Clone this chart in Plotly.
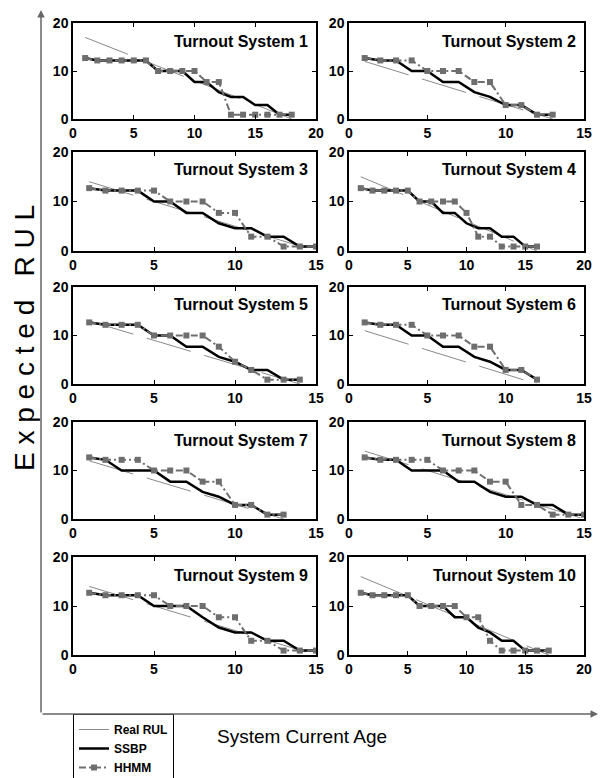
import plotly.graph_objects as go

# ---------------- data ----------------
titles = ["Turnout System %d" % i for i in range(1, 11)]
fail_age = [18, 13, 15, 16, 14, 12, 13, 15, 15, 17]          # system failure age (x where real RUL = 0)
x_max = [20, 15, 15, 20, 15, 15, 15, 15, 15, 20]              # x-axis upper limit per panel

# Real RUL: straight line from first age to failure age
real_x = [[1, 18], [1, 13], [1, 15], [1, 16], [1, 14], [1, 12], [1, 13], [1, 15], [1, 15], [1, 17]]
real_y = [[17, 0], [12, 0], [14, 0], [15, 0], [13, 0], [11, 0], [12, 0], [14, 0], [14, 0], [16, 0]]

ssbp = [
    [12.7, 12.2, 12.2, 12.2, 12.2, 12.2, 10, 10, 10, 7.7, 7.7, 5.6, 4.6, 4.6, 2.9, 2.9, 0.9, 0.9],
    [12.7, 12.2, 12.2, 10, 10, 7.7, 7.7, 5.6, 4.6, 2.9, 2.9, 0.9, 0.9],
    [12.7, 12.2, 12.2, 12.2, 10, 10, 7.7, 7.7, 5.6, 4.6, 4.6, 2.9, 2.9, 0.9, 0.9],
    [12.7, 12.2, 12.2, 12.2, 12.2, 10, 10, 7.7, 7.7, 5.6, 4.6, 4.6, 2.9, 2.9, 0.9, 0.9],
    [12.7, 12.2, 12.2, 12.2, 10, 10, 7.7, 7.7, 5.6, 4.6, 2.9, 2.9, 0.9, 0.9],
    [12.7, 12.2, 12.2, 10, 10, 7.7, 7.7, 5.6, 4.6, 2.9, 2.9, 0.9],
    [12.7, 12.2, 10, 10, 10, 7.7, 7.7, 5.6, 4.6, 2.9, 2.9, 0.9, 0.9],
    [12.7, 12.2, 12.2, 10, 10, 10, 7.7, 7.7, 5.6, 4.6, 4.6, 2.9, 2.9, 0.9, 0.9],
    [12.7, 12.2, 12.2, 12.2, 10, 10, 10, 7.7, 5.6, 4.6, 4.6, 2.9, 2.9, 0.9, 0.9],
    [12.7, 12.2, 12.2, 12.2, 12.2, 10, 10, 10, 7.7, 7.7, 5.6, 4.6, 2.9, 2.9, 0.9, 0.9, 0.9],
]
hhmm = [
    [12.7, 12.2, 12.2, 12.2, 12.2, 12.2, 10, 10, 10, 10, 7.7, 7.7, 0.9, 0.9, 0.9, 0.9, 0.9, 0.9],
    [12.7, 12.2, 12.2, 12.2, 10, 10, 10, 7.7, 7.7, 2.9, 2.9, 0.9, 0.9],
    [12.7, 12.2, 12.2, 12.2, 12.2, 10, 10, 10, 7.7, 7.7, 2.9, 2.9, 0.9, 0.9, 0.9],
    [12.7, 12.2, 12.2, 12.2, 12.2, 10, 10, 10, 10, 7.7, 2.9, 2.9, 0.9, 0.9, 0.9, 0.9],
    [12.7, 12.2, 12.2, 12.2, 10, 10, 10, 10, 7.7, 4.6, 2.9, 0.9, 0.9, 0.9],
    [12.7, 12.2, 12.2, 12.2, 10, 10, 10, 7.7, 7.7, 2.9, 2.9, 0.9],
    [12.7, 12.2, 12.2, 12.2, 10, 10, 10, 7.7, 7.7, 2.9, 2.9, 0.9, 0.9],
    [12.7, 12.2, 12.2, 12.2, 12.2, 10, 10, 10, 7.7, 7.7, 2.9, 2.9, 0.9, 0.9, 0.9],
    [12.7, 12.2, 12.2, 12.2, 12.2, 10, 10, 10, 7.7, 7.7, 2.9, 2.9, 0.9, 0.9, 0.9],
    [12.7, 12.2, 12.2, 12.2, 12.2, 10, 10, 10, 10, 7.7, 7.7, 2.9, 0.9, 0.9, 0.9, 0.9, 0.9],
]
y_ticks = [0, 10, 20]

# ---------------- layout geometry (pixels) ----------------
W, H = 600, 778
col_px = [(73, 316), (349, 584)]
row_px = [(23, 119), (152, 251), (287, 384), (422, 519), (557, 655)]

FONT = "Liberation Sans, Arial, Helvetica, sans-serif"

fig = go.Figure()
layout = dict(
    width=W, height=H, margin=dict(l=0, r=0, t=0, b=0, autoexpand=False),
    paper_bgcolor="white", plot_bgcolor="white",
    font=dict(family=FONT, color="black"),
    showlegend=True,
    legend=dict(x=73 / W, y=1 - 714 / H, xanchor="left", yanchor="top",
                bordercolor="black", borderwidth=1, bgcolor="white",
                font=dict(family=FONT, size=12, weight="bold", color="black"),
                tracegroupgap=0, itemwidth=30),
)
annotations = []

for i in range(10):
    r, c = divmod(i, 2)
    n = i + 1
    sfx = "" if n == 1 else str(n)
    xa, ya = "x" + sfx, "y" + sfx
    x0, x1 = col_px[c]
    yt, yb = row_px[r]
    ages = list(range(1, fail_age[i] + 1))
    first = (i == 0)

    fig.add_trace(go.Scatter(
        x=real_x[i], y=real_y[i], mode="lines", name="Real RUL",
        line=dict(color="#8a8a8a", width=1, dash="46px,14px"),
        xaxis=xa, yaxis=ya, showlegend=first, legendgroup="real"))
    fig.add_trace(go.Scatter(
        x=ages, y=ssbp[i], mode="lines", name="SSBP",
        line=dict(color="black", width=2.5),
        xaxis=xa, yaxis=ya, showlegend=first, legendgroup="ssbp"))
    fig.add_trace(go.Scatter(
        x=ages, y=hhmm[i], mode="lines+markers", name="HHMM",
        line=dict(color="#6e6e6e", width=2, dash="7px,3px,2px,3px"),
        marker=dict(symbol="square", size=6, color="#6e6e6e"),
        xaxis=xa, yaxis=ya, showlegend=first, legendgroup="hhmm"))

    axis_common = dict(showline=True, linecolor="black", linewidth=1.5, mirror="ticks",
                       ticks="inside", ticklen=4, tickcolor="black", tickwidth=1,
                       showgrid=False, zeroline=False,
                       tickfont=dict(family=FONT, size=14, weight="bold", color="black"))
    layout["xaxis" + sfx] = dict(axis_common, domain=[x0 / W, x1 / W], range=[0, x_max[i]],
                                 tickvals=list(range(0, x_max[i] + 1, 5)), anchor=ya)
    layout["yaxis" + sfx] = dict(axis_common, domain=[1 - yb / H, 1 - yt / H], range=[0, 20],
                                 tickvals=y_ticks, anchor=xa)
    annotations.append(dict(
        text=titles[i], xref=xa + " domain", yref=ya + " domain", x=1, y=1,
        xanchor="right", yanchor="middle", xshift=-6, yshift=-18, showarrow=False,
        font=dict(family=FONT, size=16, weight="bold", color="black")))

# big axis labels
annotations.append(dict(text="E x p e c t e d   R U L", xref="paper", yref="paper",
                        x=25 / W, y=1 - 338 / H, textangle=-90, showarrow=False,
                        xanchor="center", yanchor="middle",
                        font=dict(family=FONT, size=28, color="black")))
annotations.append(dict(text="System Current Age", xref="paper", yref="paper",
                        x=302 / W, y=1 - 736 / H, showarrow=False,
                        xanchor="center", yanchor="middle",
                        font=dict(family=FONT, size=19, color="black")))
# arrows of the outer axes
annotations.append(dict(text="", xref="paper", yref="paper", x=41 / W, y=1 - 10 / H,
                        ax=0, ay=704, showarrow=True, arrowhead=2, arrowsize=1,
                        arrowwidth=1.5, arrowcolor="#666666", standoff=0))
annotations.append(dict(text="", xref="paper", yref="paper", x=598 / W, y=1 - 714 / H,
                        ax=-557, ay=0, showarrow=True, arrowhead=2, arrowsize=1,
                        arrowwidth=1.5, arrowcolor="#666666", standoff=0))

layout["annotations"] = annotations
fig.update_layout(**layout)
fig.write_html("out.html", config={"displayModeBar": False},
               post_script="document.body.style.margin='0';document.body.style.overflow='hidden';")
